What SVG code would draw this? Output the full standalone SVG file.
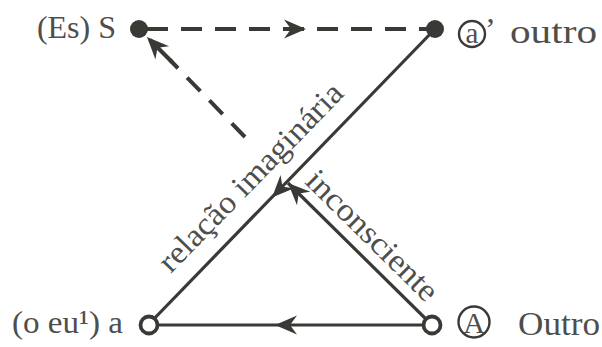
<svg xmlns="http://www.w3.org/2000/svg" width="602" height="347" viewBox="0 0 602 347">
<style>
.ln{stroke:#383a36;stroke-width:3.2;fill:none}
.dash{stroke:#383a36;stroke-width:4;fill:none;stroke-dasharray:21 13}
.ah{fill:#383a36}
text{font-family:'Liberation Serif','Times New Roman','DejaVu Serif',serif;fill:#4e4e4c}
.fill{fill:#383a36}
.hollow{fill:#fff;stroke:#383a36;stroke-width:3.8}
.ring{fill:none;stroke:#3a3a38;stroke-width:2.4}
</style>
<defs>
<path id="arr" d="M0,0 L-22,-9.5 L-15,0 L-22,9.5 Z"/>
</defs>
<rect width="602" height="347" fill="#fff"/>
<g id="connectors">
<line class="dash" x1="147" y1="29" x2="428" y2="29"/>
<use href="#arr" class="ah" transform="translate(306,29)"/>
<line class="dash" x1="245" y1="137" x2="170" y2="60" style="stroke-dasharray:19 13"/>
<line class="ln" x1="172" y1="62" x2="150" y2="40" style="stroke-width:4"/>
<use href="#arr" class="ah" transform="translate(147,37) rotate(-134)"/>
<line class="ln" x1="435" y1="29" x2="149" y2="324"/>
<use href="#arr" class="ah" transform="translate(272,197.5) rotate(134.2)"/>
<line class="ln" x1="432" y1="325" x2="288" y2="183"/>
<use href="#arr" class="ah" transform="translate(288,183) rotate(-135.4)"/>
<line class="ln" x1="432" y1="325" x2="149" y2="325"/>
<use href="#arr" class="ah" transform="translate(275,325) rotate(180)"/>
</g>
<g id="node-S">
<circle class="fill" cx="139" cy="29" r="9"/>
<text x="116" y="38" font-size="32" text-anchor="end">(Es) S</text>
</g>
<g id="node-a-prime">
<circle class="fill" cx="435" cy="29" r="9"/>
<circle class="ring" cx="472" cy="34" r="13"/>
<text x="472" y="43" font-size="29" text-anchor="middle">a</text>
<text x="485" y="40" font-size="32">’</text>
<text x="510" y="43" font-size="34" textLength="87" lengthAdjust="spacingAndGlyphs">outro</text>
</g>
<g id="node-a">
<circle class="hollow" cx="149" cy="325" r="8.5"/>
<text x="12" y="333" font-size="32" textLength="111" lengthAdjust="spacingAndGlyphs">(o eu¹) a</text>
</g>
<g id="node-A">
<circle class="hollow" cx="432" cy="325" r="8.5"/>
<circle class="ring" cx="474" cy="322" r="15.5"/>
<text x="474" y="332.5" font-size="30" text-anchor="middle">A</text>
<text x="518" y="335" font-size="34" textLength="82" lengthAdjust="spacingAndGlyphs">Outro</text>
</g>
<g id="labels">
<text font-size="32" text-anchor="middle" textLength="250" lengthAdjust="spacingAndGlyphs" transform="translate(258,184.5) rotate(-45.8)">relação imaginária</text>
<text font-size="32" text-anchor="middle" textLength="172" lengthAdjust="spacingAndGlyphs" transform="translate(365,243) rotate(44.6)">inconsciente</text>
</g>
</svg>
